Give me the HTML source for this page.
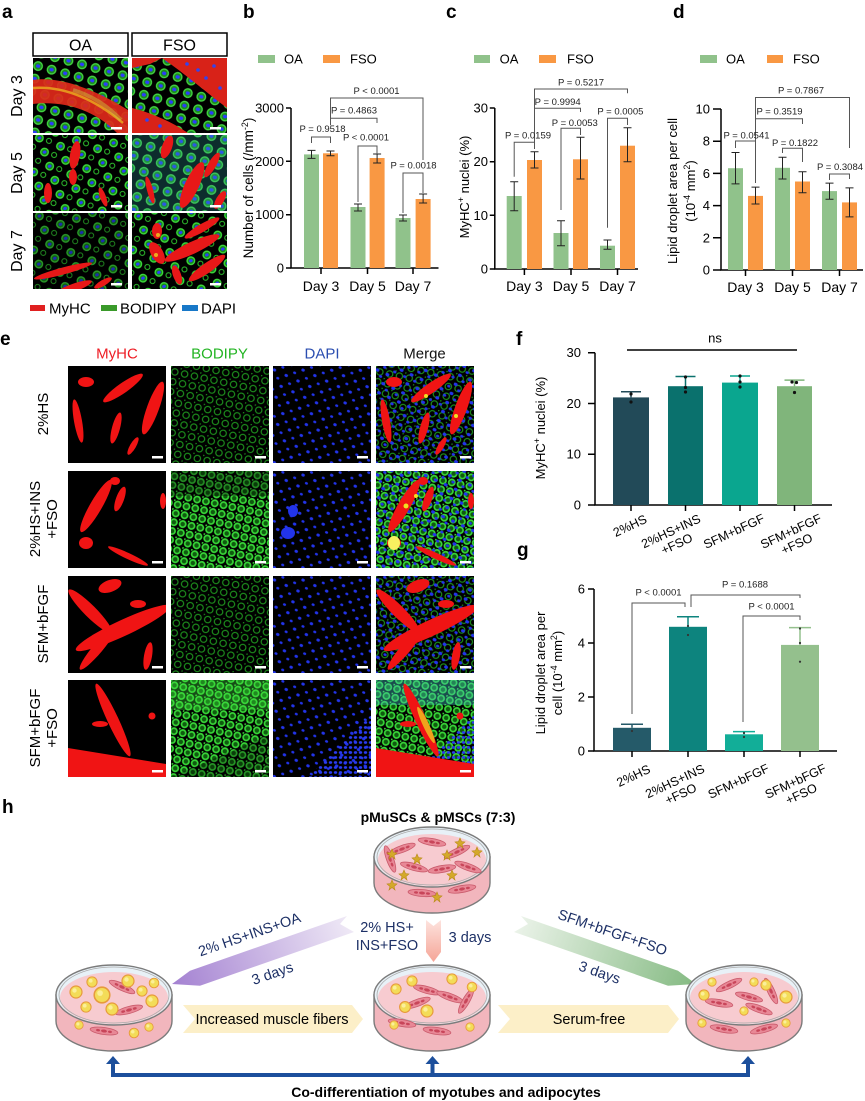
<!DOCTYPE html>
<html><head><meta charset="utf-8"><style>
html,body{margin:0;padding:0;background:#fff}
svg{display:block}
text{font-family:"Liberation Sans",Arial,Helvetica,sans-serif}
</style></head><body>
<svg xmlns="http://www.w3.org/2000/svg" width="865" height="1101" viewBox="0 0 865 1101">
<defs>
<pattern id="pc" patternUnits="userSpaceOnUse" width="14" height="13" patternTransform="rotate(15)">
 <circle cx="7" cy="6.5" r="4.3" fill="#1c8c1c" stroke="#44d844" stroke-width="1.3"/>
 <ellipse cx="7" cy="6.5" rx="2.1" ry="1.7" fill="#2b3bff"/>
</pattern>
<pattern id="pc2" patternUnits="userSpaceOnUse" width="17" height="15" patternTransform="rotate(-20)">
 <circle cx="5" cy="5" r="3.8" fill="#168a16" stroke="#3ee03e" stroke-width="1.3"/>
 <ellipse cx="5" cy="5" rx="1.9" ry="1.5" fill="#2b3bff"/>
 <circle cx="13" cy="11" r="2.5" fill="none" stroke="#2fc82f" stroke-width="1"/>
</pattern>
<pattern id="er" patternUnits="userSpaceOnUse" width="10" height="10" patternTransform="rotate(12)">
 <circle cx="5" cy="5" r="3.2" fill="none" stroke="#1d8f1d" stroke-width="1.2"/>
 <circle cx="0.5" cy="0.5" r="0.9" fill="#1d8f1d"/>
</pattern>
<pattern id="erb" patternUnits="userSpaceOnUse" width="9" height="9" patternTransform="rotate(12)">
 <circle cx="4.5" cy="4.5" r="3.1" fill="#0f5a0f" stroke="#38d838" stroke-width="1.7"/>
 <circle cx="0.5" cy="0.5" r="1.2" fill="#38d838"/>
</pattern>
<pattern id="ed" patternUnits="userSpaceOnUse" width="11" height="10" patternTransform="rotate(25)">
 <ellipse cx="3" cy="3" rx="2" ry="1.6" fill="#2234ea"/>
 <ellipse cx="8.5" cy="7.5" rx="1.7" ry="1.4" fill="#2234ea"/>
</pattern>
<pattern id="eds" patternUnits="userSpaceOnUse" width="13" height="12" patternTransform="rotate(25)">
 <ellipse cx="3" cy="3" rx="1.8" ry="1.5" fill="#2234ea"/>
 <ellipse cx="9.5" cy="9" rx="1.6" ry="1.3" fill="#2234ea"/>
</pattern>
<pattern id="edd" patternUnits="userSpaceOnUse" width="5" height="5">
 <ellipse cx="2.5" cy="2.5" rx="1.7" ry="1.4" fill="#2a3cf0"/>
</pattern>
<g id="R1" fill="#f01414">
 <ellipse cx="55" cy="22" rx="24" ry="5" transform="rotate(-35 55 22)"/>
 <ellipse cx="85" cy="42" rx="28" ry="6" transform="rotate(-70 85 42)"/>
 <ellipse cx="10" cy="55" rx="22" ry="4" transform="rotate(80 10 55)"/>
 <ellipse cx="48" cy="62" rx="16" ry="4" transform="rotate(-75 48 62)"/>
 <ellipse cx="18" cy="16" rx="8" ry="5"/>
 <ellipse cx="65" cy="80" rx="10" ry="3" transform="rotate(-60 65 80)"/>
</g>
<g id="R2" fill="#f01414">
 <ellipse cx="28" cy="35" rx="30" ry="6" transform="rotate(-60 28 35)"/>
 <ellipse cx="52" cy="28" rx="13" ry="4" transform="rotate(-70 52 28)"/>
 <ellipse cx="18" cy="72" rx="7" ry="6"/>
 <ellipse cx="60" cy="85" rx="22" ry="3" transform="rotate(25 60 85)"/>
 <ellipse cx="47" cy="10" rx="5" ry="4"/>
 <ellipse cx="95" cy="30" rx="3" ry="8"/>
</g>
<g id="R3" fill="#f01414">
 <ellipse cx="55" cy="52" rx="52" ry="8" transform="rotate(-25 55 52)"/>
 <ellipse cx="22" cy="35" rx="30" ry="6" transform="rotate(45 22 35)"/>
 <ellipse cx="30" cy="72" rx="28" ry="5" transform="rotate(-50 30 72)"/>
 <ellipse cx="80" cy="80" rx="14" ry="4" transform="rotate(-80 80 80)"/>
 <ellipse cx="42" cy="10" rx="12" ry="6" transform="rotate(-20 42 10)"/>
 <ellipse cx="70" cy="28" rx="8" ry="4"/>
</g>
<g id="R4" fill="#f01414">
 <polygon points="0,68 98,84 98,97 0,97"/>
 <ellipse cx="45" cy="40" rx="40" ry="5.5" transform="rotate(65 45 40)"/>
 <ellipse cx="32" cy="44" rx="8" ry="3"/>
 <circle cx="84" cy="36" r="3.5"/>
</g>
<linearGradient id="gPur" x1="175" y1="983" x2="350" y2="922" gradientUnits="userSpaceOnUse"><stop offset="0" stop-color="#a583d2"/><stop offset="1" stop-color="#efe9f6"/></linearGradient>
<linearGradient id="gGrn" x1="693" y1="983" x2="518" y2="922" gradientUnits="userSpaceOnUse"><stop offset="0" stop-color="#86bb84"/><stop offset="1" stop-color="#ebf3e9"/></linearGradient>
<linearGradient id="gPink" x1="0" y1="920" x2="0" y2="962" gradientUnits="userSpaceOnUse"><stop offset="0" stop-color="#fde3de"/><stop offset="1" stop-color="#f5a597"/></linearGradient>
<g id="dish">
 <path d="M-58,0V26A58,30 0 0 0 58,26V0Z" fill="#f2b6bd" stroke="#7b7b7b" stroke-width="1.4"/>
 <ellipse rx="58" ry="30" fill="#e8f1f7" stroke="#7b7b7b" stroke-width="1.4"/>
 <ellipse cy="3" rx="54" ry="26" fill="#f7cbd0"/>
 <ellipse rx="55" ry="28" fill="none" stroke="#aaa" stroke-width=".8"/>
</g>
<g id="sp"><ellipse rx="14" ry="3.5" fill="#e88896" stroke="#c95a6b" stroke-width=".8"/><ellipse rx="3" ry="1.5" fill="#c8465a"/><ellipse cx="-6" rx="2" ry="1.2" fill="#c8465a"/><ellipse cx="6" rx="2" ry="1.2" fill="#c8465a"/></g>
<g id="ad"><circle r="6" fill="#f3dc58" stroke="#e79a3c" stroke-width="1.2"/><circle cx="-1.5" cy="-1.5" r="2.2" fill="#fbef9a"/></g>
<polygon id="star" points="0,-5 1.5,-1.5 5,-1 2,1.5 3,5 0,2.5 -3,5 -2,1.5 -5,-1 -1.5,-1.5" fill="#d4a92a" stroke="#b88a18" stroke-width=".6"/>
</defs>

<!-- Panel labels -->
<g font-weight="bold" font-size="19" fill="#000">
<text x="2" y="18">a</text><text x="243" y="18">b</text><text x="446" y="18">c</text><text x="673" y="18">d</text>
<text x="0" y="345">e</text><text x="516" y="345">f</text><text x="517" y="556">g</text><text x="2" y="813">h</text>
</g>

<!-- Panel a -->
<rect x="33" y="33" width="95" height="23" fill="#fff" stroke="#000" stroke-width="1.5"/>
<rect x="132" y="33" width="95" height="23" fill="#fff" stroke="#000" stroke-width="1.5"/>
<text x="80.5" y="50.5" font-size="16" text-anchor="middle">OA</text>
<text x="179.5" y="50.5" font-size="16" text-anchor="middle">FSO</text>
<g font-size="16" text-anchor="middle">
<text transform="translate(22,96) rotate(-90)">Day 3</text>
<text transform="translate(22,173) rotate(-90)">Day 5</text>
<text transform="translate(22,251) rotate(-90)">Day 7</text>
</g>
<svg x="33" y="58" width="95" height="75"><rect width="95" height="75" fill="#000"/><rect width="95" height="75" fill="url(#pc)"/>
 <path d="M0,22 C25,18 60,30 95,52 L95,75 L84,75 C65,55 35,42 0,46 Z" fill="#e0281a" opacity="0.92"/>
 <path d="M0,30 C30,28 60,40 90,65" stroke="#f0c020" stroke-width="2.5" fill="none" opacity=".7"/>
 <path d="M40,32 C60,38 75,48 88,62" stroke="#c8d040" stroke-width="4" fill="none" opacity=".45"/>
 <rect x="78" y="69" width="11" height="2.5" fill="#fff"/></svg>
<svg x="132" y="58" width="95" height="75"><rect width="95" height="75" fill="#000"/><rect width="95" height="75" fill="url(#pc)"/>
 <path d="M30,0 L95,0 L95,50 C75,35 52,15 30,0 Z" fill="#d82218"/>
 <path d="M0,0 L30,0 L18,6 L0,10 Z" fill="#d82218"/>
 <path d="M0,50 C20,55 40,64 56,75 L0,75 Z" fill="#d82218"/>
 <g fill="#3344ee"><circle cx="55" cy="6" r="1.8"/><circle cx="66" cy="12" r="1.8"/><circle cx="74" cy="20" r="1.8"/><circle cx="82" cy="8" r="1.8"/><circle cx="88" cy="30" r="1.8"/><circle cx="15" cy="62" r="1.8"/><circle cx="28" cy="68" r="1.8"/></g>
 <rect x="78" y="69" width="11" height="2.5" fill="#fff"/></svg>
<svg x="33" y="135" width="95" height="76"><rect width="95" height="76" fill="#000"/><rect width="95" height="76" fill="url(#pc2)"/>
 <g fill="#e81818"><ellipse cx="42" cy="20" rx="5" ry="14" transform="rotate(10 42 20)"/><ellipse cx="40" cy="42" rx="4" ry="8"/><ellipse cx="15" cy="58" rx="4" ry="10"/><ellipse cx="70" cy="62" rx="3" ry="10" transform="rotate(-20 70 62)"/></g>
 <rect x="78" y="70" width="11" height="2.5" fill="#fff"/></svg>
<svg x="132" y="135" width="95" height="76"><rect width="95" height="76" fill="#000"/><rect width="95" height="76" fill="url(#pc)"/><rect width="95" height="76" fill="#30a0a0" opacity=".28"/>
 <g fill="#e81818"><ellipse cx="35" cy="12" rx="5" ry="12" transform="rotate(20 35 12)"/><ellipse cx="60" cy="50" rx="7" ry="25" transform="rotate(25 60 50)"/><ellipse cx="80" cy="30" rx="4" ry="14" transform="rotate(30 80 30)"/><ellipse cx="18" cy="55" rx="3" ry="14" transform="rotate(-15 18 55)"/><ellipse cx="88" cy="65" rx="4" ry="10" transform="rotate(30 88 65)"/></g>
 <rect x="78" y="70" width="11" height="2.5" fill="#fff"/></svg>
<svg x="33" y="213" width="95" height="76"><rect width="95" height="76" fill="#000"/><rect width="95" height="76" fill="url(#pc2)" opacity=".7"/>
 <g fill="#e81818"><ellipse cx="30" cy="58" rx="30" ry="3.5" transform="rotate(-15 30 58)"/><ellipse cx="40" cy="75" rx="20" ry="4" transform="rotate(-20 40 75)"/><ellipse cx="70" cy="70" rx="10" ry="3" transform="rotate(-30 70 70)"/></g>
 <rect x="78" y="70" width="11" height="2.5" fill="#fff"/></svg>
<svg x="132" y="213" width="95" height="76"><rect width="95" height="76" fill="#000"/><rect width="95" height="76" fill="url(#pc2)"/>
 <g fill="#e81818"><ellipse cx="60" cy="35" rx="30" ry="6" transform="rotate(-25 60 35)"/><ellipse cx="70" cy="15" rx="20" ry="4" transform="rotate(-30 70 15)"/><ellipse cx="25" cy="40" rx="6" ry="12" transform="rotate(-30 25 40)"/><ellipse cx="75" cy="55" rx="22" ry="5" transform="rotate(-35 75 55)"/><ellipse cx="25" cy="18" rx="5" ry="8"/><ellipse cx="45" cy="62" rx="4" ry="10" transform="rotate(-20 45 62)"/></g>
 <g fill="#f0d020" opacity=".8"><circle cx="26" cy="22" r="2"/><circle cx="24" cy="42" r="2"/></g>
 <rect x="78" y="70" width="11" height="2.5" fill="#fff"/></svg>
<!-- legend a -->
<rect x="30" y="305" width="15" height="6" fill="#e02020"/><text x="49" y="313.5" font-size="15">MyHC</text>
<rect x="101" y="305" width="16" height="6" fill="#3a9a2a"/><text x="120" y="313.5" font-size="15">BODIPY</text>
<rect x="182" y="305" width="16" height="6" fill="#1878c8"/><text x="201" y="313.5" font-size="15">DAPI</text>

<!-- Panel b/c/d legends -->
<g font-size="13">
<rect x="258" y="55" width="17" height="8" fill="#90c28b"/><text x="284" y="63.5">OA</text>
<rect x="323" y="55" width="17" height="8" fill="#f99843"/><text x="350" y="63.5">FSO</text>
<rect x="474" y="55" width="16" height="8" fill="#90c28b"/><text x="499.6" y="63.5">OA</text>
<rect x="539" y="55" width="17" height="8" fill="#f99843"/><text x="567" y="63.5">FSO</text>
<rect x="700" y="55" width="17" height="8" fill="#90c28b"/><text x="726" y="63.5">OA</text>
<rect x="767" y="55" width="16" height="8" fill="#f99843"/><text x="793" y="63.5">FSO</text>
</g>
<g fill="none" stroke="#000" stroke-width="1.5">
<path d="M291,108V268H438.5"/>
<path d="M286,108H291M286,161.3H291M286,214.7H291M286,268H291M321,268v6M367.5,268v6M413,268v6"/>
<path d="M494.8,108V269H638"/>
<path d="M489.8,108h5M489.8,161.7h5M489.8,215.3h5M489.8,269h5M524.4,269v6M571,269v6M617.5,269v6"/>
<path d="M721,109V270H863"/>
<path d="M713,109h8M713,141.2h8M713,173.4h8M713,205.6h8M713,237.8h8M713,270h8M745.5,270v6M792.5,270v6M839.5,270v6"/>
<path d="M595,352.7V505H832"/>
<path d="M588,352.7h7M588,403.5h7M588,454.2h7M588,505h7M631,505v6M685.5,505v6M740,505v6M794.5,505v6"/>
<path d="M594,589V751H837"/>
<path d="M588,589h6M588,643h6M588,697h6M588,751h6M632,751v6M688,751v6M744,751v6M800,751v6"/>
</g>
<g font-size="13" text-anchor="end">
<text x="284" y="112.5">3000</text><text x="284" y="165.8">2000</text><text x="284" y="219.2">1000</text><text x="284" y="272.5">0</text>
<text x="488" y="112.5">30</text><text x="488" y="166.2">20</text><text x="488" y="219.8">10</text><text x="488" y="273.5">0</text>
<text x="710" y="113.5">10</text><text x="710" y="145.7">8</text><text x="710" y="177.9">6</text><text x="710" y="210.1">4</text><text x="710" y="242.3">2</text><text x="710" y="274.5">0</text>
<text x="581" y="357.2">30</text><text x="581" y="408">20</text><text x="581" y="458.7">10</text><text x="581" y="509.5">0</text>
<text x="585" y="593.5">6</text><text x="585" y="647.5">4</text><text x="585" y="701.5">2</text><text x="585" y="755.5">0</text>
</g>
<g font-size="14" text-anchor="middle">
<text x="321" y="291">Day 3</text><text x="367.5" y="291">Day 5</text><text x="413" y="291">Day 7</text>
<text x="524.4" y="291">Day 3</text><text x="571" y="291">Day 5</text><text x="617.5" y="291">Day 7</text>
<text x="745.5" y="292">Day 3</text><text x="792.5" y="292">Day 5</text><text x="839.5" y="292">Day 7</text>
</g>
<g font-size="13.5" text-anchor="middle">
<text transform="translate(253,188) rotate(-90)">Number of cells (/mm<tspan dy="-5" font-size="9">-2</tspan><tspan dy="5">)</tspan></text>
<text transform="translate(469,187) rotate(-90)" font-size="13">MyHC<tspan dy="-5" font-size="9">+</tspan><tspan dy="5"> nuclei (%)</tspan></text>
<text transform="translate(677,191) rotate(-90)" font-size="13">Lipid droplet area per cell</text>
<text transform="translate(695,191) rotate(-90)" font-size="13">(10<tspan dy="-5" font-size="9">-4</tspan><tspan dy="5"> mm</tspan><tspan dy="-5" font-size="9">2</tspan><tspan dy="5">)</tspan></text>
<text transform="translate(545,428) rotate(-90)" font-size="13">MyHC<tspan dy="-5" font-size="9">+</tspan><tspan dy="5"> nuclei (%)</tspan></text>
<text transform="translate(545,673) rotate(-90)" font-size="13">Lipid droplet area per</text>
<text transform="translate(562,673) rotate(-90)" font-size="13">cell  (10<tspan dy="-5" font-size="9">-4</tspan><tspan dy="5"> mm</tspan><tspan dy="-5" font-size="9">2</tspan><tspan dy="5">)</tspan></text>
</g>
<!-- bars b c d -->
<g>
<rect x="304" y="154.4" width="15" height="113.6" fill="#90c28b"/>
<rect x="323" y="153.3" width="15" height="114.7" fill="#f99843"/>
<rect x="350.5" y="207" width="15" height="61" fill="#90c28b"/>
<rect x="369.6" y="158" width="15" height="110" fill="#f99843"/>
<rect x="395.5" y="218" width="15" height="50" fill="#90c28b"/>
<rect x="415.6" y="199" width="15" height="69" fill="#f99843"/>
<rect x="506.7" y="196" width="15" height="73" fill="#90c28b"/>
<rect x="527" y="160" width="15" height="109" fill="#f99843"/>
<rect x="553.5" y="233" width="15" height="36" fill="#90c28b"/>
<rect x="573" y="159.3" width="15" height="109.7" fill="#f99843"/>
<rect x="600" y="245.7" width="15" height="23.3" fill="#90c28b"/>
<rect x="620" y="145.7" width="15" height="123.3" fill="#f99843"/>
<rect x="728" y="168.2" width="15" height="101.8" fill="#90c28b"/>
<rect x="748" y="195.9" width="15" height="74.1" fill="#f99843"/>
<rect x="775" y="167.8" width="15" height="102.2" fill="#90c28b"/>
<rect x="795" y="181.5" width="15" height="88.5" fill="#f99843"/>
<rect x="822" y="191.1" width="15" height="78.9" fill="#90c28b"/>
<rect x="842" y="202.4" width="15" height="67.6" fill="#f99843"/>
</g>
<g fill="none" stroke="#222" stroke-width="1">
<path d="M311.5,150.4V158.4M307.5,150.4h8M307.5,158.4h8 M330.5,151V155.7M326.5,151h8M326.5,155.7h8 M358,204V211M354,204h8M354,211h8 M377.1,154V163M373.1,154h8M373.1,163h8 M403,215V221M399,215h8M399,221h8 M423.1,194V203M419.1,194h8M419.1,203h8"/>
<path d="M514.2,181.7V210.7M510.2,181.7h8M510.2,210.7h8 M534.5,151.7V168M530.5,151.7h8M530.5,168h8 M561,220.7V245.7M557,220.7h8M557,245.7h8 M580.5,137.3V179M576.5,137.3h8M576.5,179h8 M607.5,240V249.3M603.5,240h8M603.5,249.3h8 M627.5,127.7V161.7M623.5,127.7h8M623.5,161.7h8"/>
<path d="M735.5,152.5V183.9M731.5,152.5h8M731.5,183.9h8 M755.5,187.1V204M751.5,187.1h8M751.5,204h8 M782.5,157.3V179M778.5,157.3h8M778.5,179h8 M802.5,171.8V192.7M798.5,171.8h8M798.5,192.7h8 M829.5,183.1V199.2M825.5,183.1h8M825.5,199.2h8 M849.5,187.9V216.9M845.5,187.9h8M845.5,216.9h8"/>
</g>
<!-- brackets -->
<g fill="none" stroke="#555" stroke-width="1">
<path d="M311.5,143V137H330.5V143"/>
<path d="M330.5,125V98H423V160"/>
<path d="M330.5,118.3H377V123"/>
<path d="M358,202V146H377V154"/>
<path d="M403,213V173H423V193"/>
<path d="M534.5,149V89H627.5V93.3"/>
<path d="M534.5,108.3H580.5V112"/>
<path d="M514.2,176.7V142.3H534.5"/>
<path d="M561,210V128.3H580.5V135"/>
<path d="M607.5,227.7V118.3H627.5V125"/>
<path d="M755.5,183V97.5H849.5V148"/>
<path d="M755.5,118.7H802.5V124"/>
<path d="M735.5,148V141H755.5"/>
<path d="M782.5,153V148.3H802.5V162"/>
<path d="M829.5,180V174H849.5V179"/>
<path d="M632,714V603H685V607"/>
<path d="M691,607V595H800V598"/>
<path d="M743,722V616H800V620"/>
</g>
<g font-size="9.5" text-anchor="middle" fill="#222">
<text x="322.5" y="132">P = 0.9518</text>
<text x="376.5" y="94">P &lt; 0.0001</text>
<text x="354" y="113.5">P = 0.4863</text>
<text x="366" y="140.5">P &lt; 0.0001</text>
<text x="413.5" y="168.5">P = 0.0018</text>
<text x="581" y="85.5">P = 0.5217</text>
<text x="557.7" y="105">P = 0.9994</text>
<text x="528" y="138.5">P = 0.0159</text>
<text x="574.8" y="126">P = 0.0053</text>
<text x="620.4" y="114.5">P = 0.0005</text>
<text x="801" y="93.5">P = 0.7867</text>
<text x="779.5" y="114.5">P = 0.3519</text>
<text x="746.5" y="138.5">P = 0.0541</text>
<text x="795" y="146">P = 0.1822</text>
<text x="840" y="170">P = 0.3084</text>
<text x="658.5" y="595.5">P &lt; 0.0001</text>
<text x="745" y="587.5">P = 0.1688</text>
<text x="771.5" y="609.5">P &lt; 0.0001</text>
</g>

<!-- Panel e -->
<g font-size="15" text-anchor="middle">
<text x="117" y="358.5" fill="#ee1c24">MyHC</text>
<text x="219.5" y="358.5" fill="#22b422">BODIPY</text>
<text x="322" y="358.5" fill="#2a4db0">DAPI</text>
<text x="424.5" y="358.5" fill="#111">Merge</text>
<text transform="translate(48,414) rotate(-90)">2%HS</text>
<text transform="translate(40,519) rotate(-90)">2%HS+INS</text>
<text transform="translate(57,519) rotate(-90)">+FSO</text>
<text transform="translate(48,624) rotate(-90)">SFM+bFGF</text>
<text transform="translate(40,728) rotate(-90)">SFM+bFGF</text>
<text transform="translate(57,728) rotate(-90)">+FSO</text>
</g>
<!-- row1 -->
<svg x="68" y="366" width="98" height="97"><rect width="98" height="97" fill="#000"/><use href="#R1"/><rect x="84" y="90" width="11" height="2.5" fill="#fff"/></svg>
<svg x="171" y="366" width="98" height="97"><rect width="98" height="97" fill="#000"/><rect width="98" height="97" fill="url(#er)"/><rect x="84" y="90" width="11" height="2.5" fill="#fff"/></svg>
<svg x="273" y="366" width="98" height="97"><rect width="98" height="97" fill="#000"/><rect width="98" height="97" fill="url(#eds)"/><rect x="84" y="90" width="11" height="2.5" fill="#fff"/></svg>
<svg x="376" y="366" width="98" height="97"><rect width="98" height="97" fill="#000"/><rect width="98" height="97" fill="url(#er)"/><rect width="98" height="97" fill="url(#ed)"/><use href="#R1"/><circle cx="50" cy="30" r="2" fill="#f0e020"/><circle cx="80" cy="50" r="2" fill="#f0e020"/><rect x="84" y="90" width="11" height="2.5" fill="#fff"/></svg>
<!-- row2 -->
<svg x="68" y="471" width="98" height="97"><rect width="98" height="97" fill="#000"/><use href="#R2"/><rect x="84" y="90" width="11" height="2.5" fill="#fff"/></svg>
<svg x="171" y="471" width="98" height="97"><rect width="98" height="97" fill="#000"/><rect width="98" height="97" fill="url(#erb)"/><rect width="98" height="25" fill="#000" opacity=".35"/><rect x="84" y="90" width="11" height="2.5" fill="#fff"/></svg>
<svg x="273" y="471" width="98" height="97"><rect width="98" height="97" fill="#000"/><rect width="98" height="97" fill="url(#eds)"/><ellipse cx="20" cy="40" rx="5" ry="6" fill="#2234ea"/><ellipse cx="15" cy="62" rx="7" ry="6" fill="#2234ea"/><rect x="84" y="90" width="11" height="2.5" fill="#fff"/></svg>
<svg x="376" y="471" width="98" height="97"><rect width="98" height="97" fill="#000"/><rect width="98" height="97" fill="url(#erb)"/><rect width="98" height="97" fill="url(#ed)"/><use href="#R2"/><ellipse cx="18" cy="72" rx="6" ry="7" fill="#f8f060"/><circle cx="30" cy="35" r="2.5" fill="#f0e020"/><circle cx="40" cy="25" r="2" fill="#f0e020"/><rect x="84" y="90" width="11" height="2.5" fill="#fff"/></svg>
<!-- row3 -->
<svg x="68" y="576" width="98" height="97"><rect width="98" height="97" fill="#000"/><use href="#R3"/><rect x="84" y="90" width="11" height="2.5" fill="#fff"/></svg>
<svg x="171" y="576" width="98" height="97"><rect width="98" height="97" fill="#000"/><rect width="98" height="97" fill="url(#er)"/><rect x="84" y="90" width="11" height="2.5" fill="#fff"/></svg>
<svg x="273" y="576" width="98" height="97"><rect width="98" height="97" fill="#000"/><rect width="98" height="97" fill="url(#eds)"/><rect x="84" y="90" width="11" height="2.5" fill="#fff"/></svg>
<svg x="376" y="576" width="98" height="97"><rect width="98" height="97" fill="#000"/><rect width="98" height="97" fill="url(#er)"/><rect width="98" height="97" fill="url(#ed)"/><use href="#R3"/><rect x="84" y="90" width="11" height="2.5" fill="#fff"/></svg>
<!-- row4 -->
<svg x="68" y="680" width="98" height="97"><rect width="98" height="97" fill="#000"/><use href="#R4"/><rect x="84" y="90" width="11" height="2.5" fill="#fff"/></svg>
<svg x="171" y="680" width="98" height="97"><rect width="98" height="97" fill="#000"/><rect width="98" height="97" fill="url(#erb)"/><rect width="98" height="30" fill="#40e040" opacity=".35"/><polygon points="0,97 98,55 98,97" fill="#000" opacity=".3"/><rect x="84" y="90" width="11" height="2.5" fill="#fff"/></svg>
<svg x="273" y="680" width="98" height="97"><rect width="98" height="97" fill="#000"/><rect width="98" height="97" fill="url(#eds)"/><polygon points="35,97 98,35 98,97" fill="url(#edd)"/><rect x="84" y="90" width="11" height="2.5" fill="#fff"/></svg>
<svg x="376" y="680" width="98" height="97"><rect width="98" height="97" fill="#000"/><rect width="98" height="97" fill="url(#erb)"/><rect width="98" height="25" fill="#40c0c0" opacity=".4"/><polygon points="35,97 98,35 98,97" fill="url(#edd)"/><use href="#R4"/><ellipse cx="50" cy="45" rx="3" ry="20" transform="rotate(-25 50 45)" fill="#f0e020" opacity=".7"/><rect x="84" y="90" width="11" height="2.5" fill="#fff"/></svg>

<!-- Panel f -->
<text x="715" y="342.5" font-size="13" text-anchor="middle">ns</text>
<path d="M627,350H797" stroke="#000" stroke-width="1.5"/>
<rect x="613" y="397.4" width="36" height="107.6" fill="#224a58"/>
<rect x="668" y="386.2" width="35" height="118.8" fill="#0a716d"/>
<rect x="722" y="382.6" width="36" height="122.4" fill="#0aa68f"/>
<rect x="777" y="386.2" width="35" height="118.8" fill="#80b57b"/>
<g stroke-width="1.5" fill="none">
<path d="M631,397.4V391.8M621,391.8h20" stroke="#224a58"/>
<path d="M685.5,386.2V376.5M675.5,376.5h20" stroke="#0a716d"/>
<path d="M740,382.6V376M730,376h20" stroke="#0aa68f"/>
<path d="M794.5,386.2V380.1M784.5,380.1h20" stroke="#80b57b"/>
</g>
<g fill="#111">
<circle cx="631" cy="394" r="1.6"/><circle cx="631" cy="402" r="1.6"/>
<circle cx="685.5" cy="377" r="1.6"/><circle cx="685.5" cy="387.5" r="1.6"/><circle cx="685.5" cy="392" r="1.6"/>
<circle cx="740" cy="376" r="1.6"/><circle cx="740" cy="382" r="1.6"/><circle cx="740" cy="387" r="1.6"/>
<circle cx="792" cy="382" r="1.6"/><circle cx="796.5" cy="382.5" r="1.6"/><circle cx="794.5" cy="392.5" r="1.6"/>
</g>
<g font-size="12.5" text-anchor="middle">
<text transform="translate(631.7,529.6) rotate(-25)">2%HS</text>
<g transform="translate(672.7,535.1) rotate(-25)"><text>2%HS+INS</text><text y="14">+FSO</text></g>
<text transform="translate(735.7,535.1) rotate(-25)">SFM+bFGF</text>
<g transform="translate(792.7,535.1) rotate(-25)"><text>SFM+bFGF</text><text y="14">+FSO</text></g>
</g>

<!-- Panel g -->
<rect x="613" y="727.8" width="38" height="23.2" fill="#255a69"/>
<rect x="669" y="626.8" width="38" height="124.2" fill="#0d847e"/>
<rect x="725" y="734.3" width="38" height="16.7" fill="#12ae98"/>
<rect x="781" y="644.9" width="38" height="106.1" fill="#94c08d"/>
<g stroke-width="1.5" fill="none">
<path d="M632,727.8V724.3M621,724.3h22" stroke="#255a69"/>
<path d="M688,626.8V616.8M677,616.8h22" stroke="#0d847e"/>
<path d="M744,734.3V731.6M733,731.6h22" stroke="#12ae98"/>
<path d="M800,644.9V627.6M789,627.6h22" stroke="#94c08d"/>
</g>
<g fill="#333">
<circle cx="632" cy="731" r="1.1"/><circle cx="688" cy="626" r="1.1"/><circle cx="688" cy="635" r="1.1"/>
<circle cx="744" cy="733" r="1.1"/><circle cx="744" cy="737" r="1.1"/>
<circle cx="800" cy="628.5" r="1.1"/><circle cx="800" cy="643" r="1.1"/><circle cx="800" cy="661.7" r="1.1"/>
</g>
<g font-size="12.5" text-anchor="middle">
<text transform="translate(635.2,779.6) rotate(-25)">2%HS</text>
<g transform="translate(676.7,785.1) rotate(-25)"><text>2%HS+INS</text><text y="14">+FSO</text></g>
<text transform="translate(740.2,785.1) rotate(-25)">SFM+bFGF</text>
<g transform="translate(797.2,785.1) rotate(-25)"><text>SFM+bFGF</text><text y="14">+FSO</text></g>
</g>

<!-- Panel h -->
<text x="438" y="822" font-size="14" font-weight="bold" text-anchor="middle">pMuSCs &amp; pMSCs (7:3)</text>
<polygon points="347,916 190,970.7 172,984 200,985.7 354,932 340,924" fill="url(#gPur)"/>
<polygon points="521,916 678,970.7 696,984 668,985.7 514,932 528,924" fill="url(#gGrn)"/>
<polygon points="426,920 433.5,926 441,920 441,952 433.5,962 426,952" fill="url(#gPink)"/>
<polygon points="183,1005 352,1005 363,1019 352,1033 183,1033 195,1019" fill="#fcefc8"/>
<polygon points="498,1005 668,1005 679,1019 668,1033 498,1033 510,1019" fill="#fcefc8"/>
<g font-size="14.5" fill="#1d3066" text-anchor="middle">
<text transform="translate(251,939) rotate(-19)">2% HS+INS+OA</text>
<text transform="translate(274,978) rotate(-19)">3 days</text>
<text x="387" y="932">2% HS+</text>
<text x="387" y="950">INS+FSO</text>
<text x="470" y="942">3 days</text>
<text transform="translate(611,937) rotate(19)">SFM+bFGF+FSO</text>
<text transform="translate(598,977) rotate(19)">3 days</text>
</g>
<text x="272" y="1024" font-size="14.5" text-anchor="middle">Increased muscle fibers</text>
<text x="589" y="1024" font-size="14.5" text-anchor="middle">Serum-free</text>
<g transform="translate(432,857)"><use href="#dish"/>
 <use href="#sp" transform="translate(-30,-8) rotate(-20)"/><use href="#sp" transform="translate(0,-15) rotate(10)"/><use href="#sp" transform="translate(25,-5) rotate(-25)"/><use href="#sp" transform="translate(-18,10) rotate(15)"/><use href="#sp" transform="translate(10,12) rotate(-10)"/><use href="#sp" transform="translate(36,10) rotate(20)"/><use href="#sp" transform="translate(-42,2) rotate(70)"/><use href="#sp" transform="translate(-10,36) rotate(5)"/><use href="#sp" transform="translate(30,32) rotate(-10)"/>
 <use href="#star" x="-40" y="-3"/><use href="#star" x="-15" y="2"/><use href="#star" x="15" y="-2"/><use href="#star" x="28" y="-14"/><use href="#star" x="-28" y="18"/><use href="#star" x="20" y="18"/><use href="#star" x="45" y="-5"/><use href="#star" x="-40" y="28"/><use href="#star" x="5" y="40"/>
</g>
<g transform="translate(114,995)"><use href="#dish"/>
 <use href="#sp" transform="translate(8,-8) rotate(25)"/><use href="#sp" transform="translate(15,15) rotate(-15)"/><use href="#sp" transform="translate(-10,36) rotate(8)"/>
 <use href="#ad" transform="translate(-38,-3)"/><use href="#ad" transform="translate(-22,-13) scale(.85)"/><use href="#ad" transform="translate(-12,0) scale(1.3)"/><use href="#ad" transform="translate(-2,14)"/><use href="#ad" transform="translate(-28,12) scale(.85)"/><use href="#ad" transform="translate(14,-14)"/><use href="#ad" transform="translate(28,-4) scale(.85)"/><use href="#ad" transform="translate(38,6)"/><use href="#ad" transform="translate(40,-12) scale(.8)"/><use href="#ad" transform="translate(-35,30) scale(.7)"/><use href="#ad" transform="translate(20,38) scale(.8)"/><use href="#ad" transform="translate(35,32) scale(.7)"/>
</g>
<g transform="translate(432,995)"><use href="#dish"/>
 <use href="#sp" transform="translate(-5,-5) rotate(15)"/><use href="#sp" transform="translate(18,2) rotate(20)"/><use href="#sp" transform="translate(34,6) rotate(-60)"/><use href="#sp" transform="translate(-15,8) rotate(-20)"/><use href="#sp" transform="translate(5,36) rotate(8)"/><use href="#sp" transform="translate(-30,28) rotate(10)"/>
 <use href="#ad" transform="translate(-36,-6) scale(.85)"/><use href="#ad" transform="translate(-20,-14) scale(.85)"/><use href="#ad" transform="translate(-27,12) scale(.9)"/><use href="#ad" transform="translate(20,-16) scale(.85)"/><use href="#ad" transform="translate(-5,16)"/><use href="#ad" transform="translate(40,-8) scale(.8)"/><use href="#ad" transform="translate(-38,30) scale(.7)"/><use href="#ad" transform="translate(38,32) scale(.7)"/>
</g>
<g transform="translate(744,995)"><use href="#dish"/>
 <use href="#sp" transform="translate(-15,-10) rotate(-25)"/><use href="#sp" transform="translate(5,2) rotate(15)"/><use href="#sp" transform="translate(27,-4) rotate(65)"/><use href="#sp" transform="translate(-25,8) rotate(10)"/><use href="#sp" transform="translate(15,14) rotate(20)"/><use href="#sp" transform="translate(-20,34) rotate(10)"/><use href="#sp" transform="translate(20,34) rotate(-15)"/>
 <use href="#ad" transform="translate(-40,0) scale(.85)"/><use href="#ad" transform="translate(-32,-13) scale(.7)"/><use href="#ad" transform="translate(10,-13) scale(.7)"/><use href="#ad" transform="translate(22,-10) scale(.85)"/><use href="#ad" transform="translate(42,2)"/><use href="#ad" transform="translate(0,16) scale(.7)"/><use href="#ad" transform="translate(-42,28) scale(.7)"/><use href="#ad" transform="translate(42,28) scale(.7)"/>
</g>
<g fill="#1c4f9c">
<rect x="111" y="1073" width="639" height="4"/>
<rect x="111" y="1062" width="4" height="15"/><polygon points="106,1064 113,1056 120,1064"/>
<rect x="430.5" y="1062" width="4" height="15"/><polygon points="425.5,1064 432.5,1056 439.5,1064"/>
<rect x="746" y="1062" width="4" height="15"/><polygon points="741,1064 748,1056 755,1064"/>
</g>
<text x="446" y="1097" font-size="14" font-weight="bold" text-anchor="middle">Co-differentiation of myotubes and adipocytes</text>
</svg>
</body></html>
